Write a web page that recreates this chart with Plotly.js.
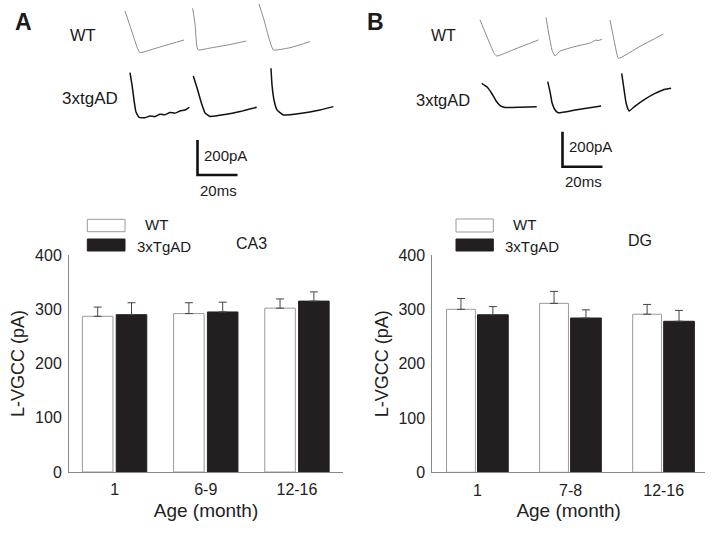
<!DOCTYPE html>
<html>
<head>
<meta charset="utf-8">
<script src="https://cdn.plot.ly/plotly-3.0.1.min.js"></script>
<style>html,body{margin:0;padding:0;background:#fff;}#chart{width:717px;height:538px;}</style>
</head>
<body>
<div id="chart"></div>
<script>
// ---------------- DATA ----------------
// Bar charts: L-VGCC amplitude (pA), mean and upward SEM
const groupsA = ["1", "6-9", "12-16"];
const wtA = [287, 292, 302];
const wtAErr = [17, 20, 17];
const tgA = [290, 295, 315];
const tgAErr = [22, 18, 17];

const groupsB = ["1", "7-8", "12-16"];
const wtB = [300, 311, 291];
const wtBErr = [20, 22, 18];
const tgB = [290, 284, 278];
const tgBErr = [15, 15, 20];

const seriesNames = ["WT", "3xTgAD"];
const regionA = "CA3";
const regionB = "DG";

// Example current sweeps: time (ms) from sweep start, current (pA) relative to start
const aWt1T = [0, 1.5, 4, 6, 7.5, 12.5, 20, 29.5];
const aWt1I = [0, -51, -137, -206, -238, -223, -197, -166];
const aWt2T = [0, 1.2, 2, 2.7, 8.7, 18.7, 26.7];
const aWt2I = [0, -95, -210, -238, -227, -207, -187];
const aWt3T = [0, 2.5, 4.5, 6, 7.2, 15.5, 25.5];
const aWt3I = [0, -91, -177, -234, -263, -250, -215];
const aTg1T = [0, 1, 2, 3, 4.5, 7.5, 10, 12.5, 15, 17.5, 20, 22.5, 25, 27.5, 29.7];
const aTg1I = [0, -70, -156, -225, -255, -257, -248, -251, -237, -240, -228, -231, -219, -213, -198];
const aTg2T = [0, 1.9, 3.9, 5.9, 8.4, 15.9, 23.4, 31.7];
const aTg2I = [0, -69, -149, -211, -231, -220, -203, -179];
const aTg3T = [0, 0.5, 1.5, 3, 6.2, 14.5, 24.5, 31.2];
const aTg3I = [0, -95, -181, -238, -267, -258, -238, -219];

const bWt1T = [0, 2.5, 5, 7, 8.4, 17.5, 29.2];
const bWt1I = [0, -69, -137, -189, -206, -166, -114];
const bWt2T = [0, 1.5, 3, 4.5, 7, 14.5, 22, 25, 26, 27.9];
const bWt2I = [0, -101, -187, -221, -193, -167, -147, -130, -133, -126];
const bWt3T = [0, 1.5, 3, 4.2, 15, 26.7];
const bWt3I = [0, -86, -171, -219, -151, -80];
const bTg1T = [0, 2.7, 5.2, 7.2, 9.2, 11.7, 19.2, 27.5];
const bTg1I = [0, -21, -61, -101, -127, -138, -137, -134];
const bTg2T = [0, 1.2, 2.2, 3.7, 5.2, 13.7, 26.7];
const bTg2I = [0, -59, -122, -162, -177, -162, -139];
const bTg3T = [0, 1.2, 2.2, 3.7, 6.7, 11.7, 16.7, 20.7, 24.7];
const bTg3I = [0, -95, -170, -215, -187, -147, -115, -95, -86];

// Scale bar sizes
const scaleCurrent = 200; // pA
const scaleTime = 20;     // ms

// ---------------- LAYOUT HELPERS ----------------
const W = 717, H = 538;
const PX_PER_MS = 2, PX_PER_PA = 0.175;
const TRACE_H = 200;
const px = x => x / W;
const py = y => 1 - y / H;
const FONT = "Liberation Sans, Arial, sans-serif";
const msAt = x => x / PX_PER_MS;
const paAt = y => -y / PX_PER_PA;

const traces = [];
function sweep(t, I, x0, y0, color, width) {
  traces.push({
    type: "scatter", mode: "lines", xaxis: "x3", yaxis: "y3",
    x: t.map(v => v + msAt(x0)), y: I.map(v => v + paAt(y0)),
    line: {color: color, width: width, shape: "spline", smoothing: 0.4},
    hoverinfo: "skip", showlegend: false
  });
}
const WTC = "#8a8a8a", TGC = "#111111";
sweep(aWt1T, aWt1I, 125, 11, WTC, 1);
sweep(aWt2T, aWt2I, 192.7, 8.3, WTC, 1);
sweep(aWt3T, aWt3I, 259, 4, WTC, 1);
sweep(aTg1T, aTg1I, 130, 72.7, TGC, 1.5);
sweep(aTg2T, aTg2I, 193.3, 76, TGC, 1.5);
sweep(aTg3T, aTg3I, 271, 68.3, TGC, 1.5);
sweep(bWt1T, bWt1I, 480, 20, WTC, 1);
sweep(bWt2T, bWt2I, 546, 17.3, WTC, 1);
sweep(bWt3T, bWt3I, 610, 20, WTC, 1);
sweep(bTg1T, bTg1I, 481.7, 83.3, TGC, 1.5);
sweep(bTg2T, bTg2I, 547.7, 81.7, TGC, 1.5);
sweep(bTg3T, bTg3I, 621.7, 73.3, TGC, 1.5);

function scaleBar(x0, y0) {
  const cx = msAt(x0), cy = paAt(y0);
  traces.push({
    type: "scatter", mode: "lines", xaxis: "x3", yaxis: "y3",
    x: [cx, cx, cx + scaleTime], y: [cy + scaleCurrent, cy, cy],
    line: {color: "#111", width: 2.6}, hoverinfo: "skip", showlegend: false
  });
}
scaleBar(197.5, 175);
scaleBar(562.5, 166.7);

// Bars
const barCommon = {type: "bar", showlegend: false, hoverinfo: "y"};
function bars(vals, errs, xa, ya, fill, outline, offset, width, name) {
  traces.push(Object.assign({}, barCommon, {
    name: name, x: vals.map((_, i) => i), y: vals, xaxis: xa, yaxis: ya,
    offset: offset, width: width,
    marker: {color: fill, line: {color: outline, width: 1}},
    error_y: {type: "data", symmetric: false, array: errs, arrayminus: errs.map(() => 0),
              color: "#444", thickness: 1, width: 4}
  }));
}
bars(wtA, wtAErr, "x", "y", "#ffffff", "#9a9a9a", -0.353, 0.335, seriesNames[0]);
bars(tgA, tgAErr, "x", "y", "#231f20", "#231f20", 0.018, 0.335, seriesNames[1]);
bars(wtB, wtBErr, "x2", "y2", "#ffffff", "#9a9a9a", -0.333, 0.31, seriesNames[0]);
bars(tgB, tgBErr, "x2", "y2", "#231f20", "#231f20", 0.0, 0.33, seriesNames[1]);

const tickFont = {family: FONT, size: 16, color: "#222"};
function xAx(dom, range, labels) {
  return {domain: dom, range: range, showline: true, linecolor: "#888", linewidth: 1,
    showgrid: false, zeroline: false, ticks: "", tickvals: labels.map((_, i) => i), ticktext: labels,
    tickfont: tickFont, ticklabelstandoff: 3, fixedrange: true,
    title: {text: "Age (month)", font: {family: FONT, size: 19, color: "#222"}, standoff: 6}};
}
function yAx(dom, anchor) {
  return {domain: dom, range: [0, 400], anchor: anchor, showline: true, linecolor: "#888", linewidth: 1,
    showgrid: false, zeroline: false, ticks: "", tickvals: [0, 100, 200, 300, 400],
    tickfont: tickFont, ticklabelstandoff: 3, fixedrange: true,
    title: {text: "L-VGCC (pA)", font: {family: FONT, size: 18, color: "#222"}, standoff: 5}};
}

const layout = {
  width: W, height: H, margin: {l: 0, r: 0, t: 0, b: 0},
  paper_bgcolor: "#fff", plot_bgcolor: "rgba(0,0,0,0)",
  barmode: "overlay", showlegend: false,
  font: {family: FONT, color: "#222"},
  xaxis: Object.assign(xAx([px(69), px(343)], [-0.5, 2.505], groupsA), {anchor: "y"}),
  yaxis: yAx([py(472), py(255)], "x"),
  xaxis2: Object.assign(xAx([px(432.3), px(705)], [-0.486, 2.444], groupsB), {anchor: "y2"}),
  yaxis2: yAx([py(472.3), py(255)], "x2"),
  xaxis3: {domain: [0, 1], range: [0, W / PX_PER_MS], visible: false, anchor: "y3", fixedrange: true},
  yaxis3: {domain: [py(TRACE_H), 1], range: [-TRACE_H / PX_PER_PA, 0], visible: false, anchor: "x3", fixedrange: true},
  shapes: [],
  annotations: []
};

function txt(text, x, y, size, xanchor, bold) {
  layout.annotations.push({xref: "paper", yref: "paper", x: px(x), y: py(y), text: bold ? "<b>" + text + "</b>" : text,
    showarrow: false, xanchor: xanchor || "center", yanchor: "middle",
    font: {family: FONT, size: size, color: "#1a1a1a"}});
}
function box(x0, y0, x1, y1, fill, line) {
  layout.shapes.push({type: "rect", xref: "paper", yref: "paper", x0: px(x0), x1: px(x1), y0: py(y1), y1: py(y0),
    fillcolor: fill, line: {color: line, width: 1}});
}
// Panel letters and sweep labels
txt("A", 24, 22.5, 23, "center", true);
txt("B", 375, 21.5, 23, "center", true);
txt(seriesNames[0], 83, 35, 16.5);
txt("3xtgAD", 90, 98, 17);
txt(seriesNames[0], 444, 35, 16);
txt("3xtgAD", 443, 100, 16.5);
txt(scaleCurrent + "pA", 202, 155, 15, "left");
txt(scaleTime + "ms", 218, 190.5, 15);
txt(scaleCurrent + "pA", 567, 146.5, 15, "left");
txt(scaleTime + "ms", 583, 181.5, 15);
// Legends
box(87.3, 219.3, 125, 231.7, "#ffffff", "#9a9a9a");
box(87.3, 239, 125, 251, "#231f20", "#231f20");
txt(seriesNames[0], 142.5, 225, 15, "left");
txt(seriesNames[1], 135, 246, 15, "left");
txt(regionA, 251.7, 243.3, 16);
box(456, 219, 493.3, 232, "#ffffff", "#9a9a9a");
box(456, 239, 493.3, 251, "#231f20", "#231f20");
txt(seriesNames[0], 511, 225, 15, "left");
txt(seriesNames[1], 502.5, 246, 15, "left");
txt(regionB, 640, 240, 16);

Plotly.newPlot("chart", traces, layout, {staticPlot: true, displayModeBar: false});
</script>
</body>
</html>
